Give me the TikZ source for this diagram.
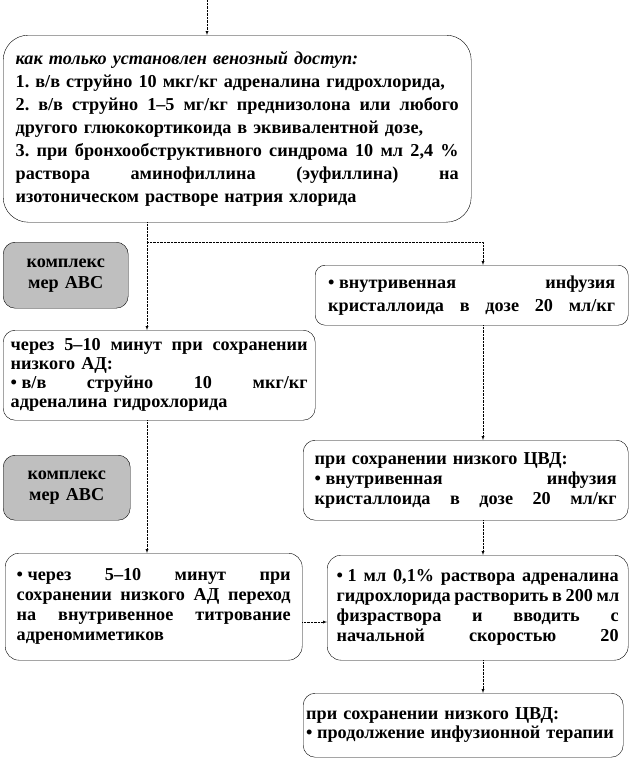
\documentclass[tikz,border=0pt]{standalone}
\usepackage{fontspec}
\setmainfont{Liberation Serif}
\frenchspacing
\usetikzlibrary{positioning,arrows}
\tikzstyle{stepbox}=[draw,thin,rounded corners=12pt,anchor=north west,align=left,inner ysep=0pt]
\tikzstyle{abcbox}=[fill=black!25,align=center]
\tikzstyle{flow}=[densely dotted,->]
\tikzset{lead/.style={font=\bfseries\fontsize{18.2}{#1}\selectfont}}
% justified line: spread the spaces to the full text width
\newcommand{\jl}[1]{{\spaceskip=0.25em plus 20em minus 0.05em\makebox[\linewidth][s]{#1}}}
\newcommand{\bul}{\textbullet\hspace{0.25em}}
\newcommand{\newStep}[4]{\node[stepbox,#3](#1) at (#2) {#4};}
\newcommand{\newFlow}[3]{\draw[flow] (#1 -| #3) -- (#2 -| #3);}

\begin{document}
\begin{tikzpicture}[x=1pt,y=-1pt,>=latex]
  \useasboundingbox (0,0) rectangle (632,764);
  \coordinate (in) at (207,0);
  \coordinate (lx) at (147,0);
  \coordinate (rx) at (483,0);
  \coordinate (split) at (147,242);
  \coordinate (ay) at (0,622);

  \newStep{A}{3,35}{lead=23,rounded corners=25pt,text width=443pt,inner xsep=12.5pt,minimum height=187pt}{%
    \textit{как только установлен венозный доступ:}\\
    1. в/в струйно 10 мкг/кг адреналина гидрохлорида,\\
    \jl{2. в/в струйно 1–5 мг/кг преднизолона или любого}\\
    другого глюкокортикоида в эквивалентной дозе,\\
    \jl{3. при бронхообструктивного синдрома 10 мл 2,4 \%}\\
    \jl{раствора аминофиллина (эуфиллина) на}\\
    изотоническом растворе натрия хлорида}
  \newStep{abc1}{3,242}{abcbox,lead=21,text width=109pt,inner xsep=8pt,minimum height=66pt}{комплекс\\мер ABC}
  \newStep{C}{3,330}{lead=19,text width=297pt,inner xsep=7.5pt,minimum height=90pt}{%
    \jl{через 5–10 минут при сохранении}\\
    низкого АД:\\
    \jl{\bul в/в струйно 10 мкг/кг}\\
    адреналина гидрохлорида}
  \newStep{D}{315,265}{lead=23,rounded corners=10pt,text width=287pt,inner xsep=13pt,minimum height=60pt}{%
    \jl{\bul внутривенная инфузия}\\
    \jl{кристаллоида в дозе 20 мл/кг}}
  \newStep{abc2}{3,455}{abcbox,lead=21,text width=111pt,inner xsep=8pt,minimum height=65pt}{комплекс\\мер ABC}
  \newStep{E}{303,440}{lead=20,text width=302pt,inner xsep=11.5pt,minimum height=80pt}{%
    при сохранении низкого ЦВД:\\
    \jl{\bul внутривенная инфузия}\\
    \jl{кристаллоида в дозе 20 мл/кг}}
  \newStep{F}{5,553}{lead=20,rounded corners=14pt,text width=274pt,inner xsep=11.5pt,minimum height=107pt}{%
    \jl{\bul через 5–10 минут при}\\
    \jl{сохранении низкого АД переход}\\
    \jl{на внутривенное титрование}\\
    адреномиметиков}
  \newStep{G}{327,555}{lead=20,rounded corners=14pt,text width=282pt,inner xsep=9.5pt,minimum height=105pt}{%
    \jl{\bul 1 мл 0,1\% раствора адреналина}\\
    \jl{гидрохлорида растворить в 200 мл}\\
    \jl{физраствора и вводить с}\\
    \jl{начальной скоростью 20}}
  \newStep{H}{303,693}{lead=19,text width=314pt,inner xsep=3pt,minimum height=64pt}{%
    при сохранении низкого ЦВД:\\
    \bul продолжение инфузионной терапии}

  \draw[flow] (in) -- (in |- A.north);
  \draw[flow] (A.south -| lx) -- (C.north -| lx);
  \draw[flow] (split) -| (D.north -| rx);
  \newFlow{D.south}{E.north}{rx}
  \newFlow{C.south}{F.north}{lx}
  \newFlow{E.south}{G.north}{rx}
  \newFlow{G.south}{H.north}{rx}
  \draw[flow] (F.east |- ay) -- (G.west |- ay);
\end{tikzpicture}
\end{document}
